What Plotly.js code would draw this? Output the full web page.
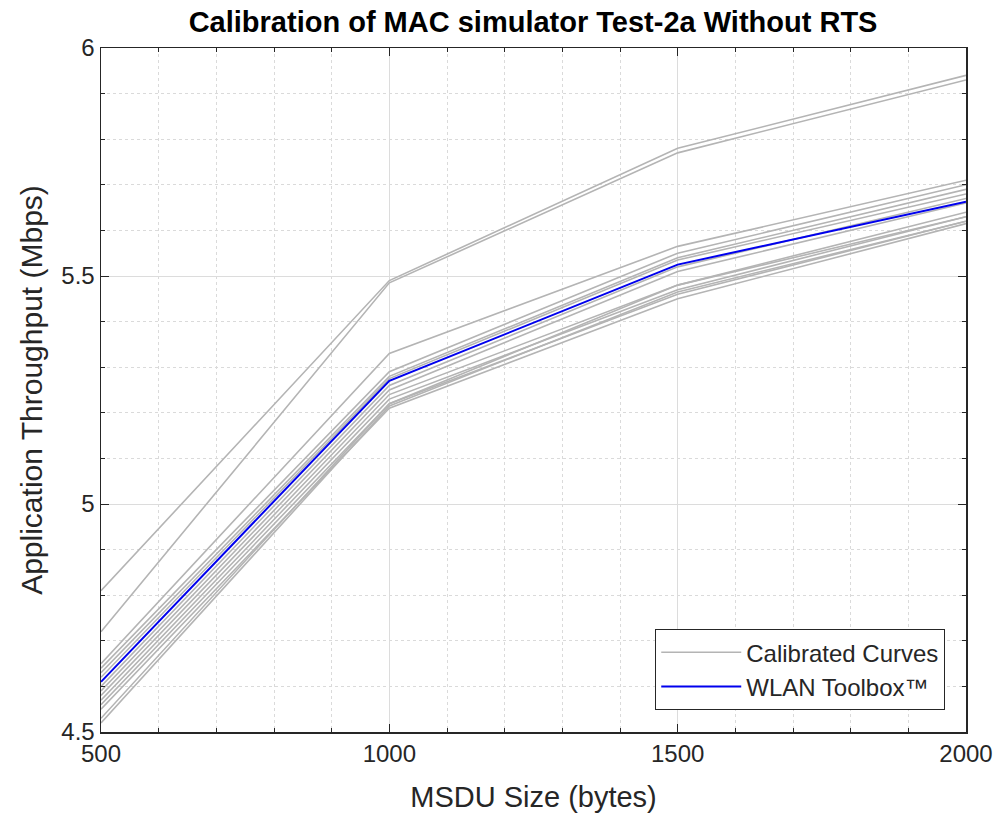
<!DOCTYPE html>
<html>
<head>
<meta charset="utf-8">
<script src="https://cdn.plot.ly/plotly-3.0.1.min.js"></script>
<style>html,body{margin:0;padding:0;background:#fff;}#chart{width:1002px;height:823px;}</style>
</head>
<body>
<div id="chart"></div>
<script>
// MSDU sizes (bytes)
const msduSize = [500, 1000, 1500, 2000];

// Calibrated curves (Mbps)
const calCurve01 = [4.81, 5.49, 5.78, 5.94];
const calCurve02 = [4.72, 5.485, 5.77, 5.93];
const calCurve03 = [4.65, 5.33, 5.565, 5.71];
const calCurve04 = [4.64, 5.29, 5.55, 5.70];
const calCurve05 = [4.63, 5.28, 5.54, 5.69];
const calCurve06 = [4.62, 5.275, 5.535, 5.68];
const calCurve07 = [4.60, 5.26, 5.52, 5.67];
const calCurve08 = [4.59, 5.25, 5.51, 5.66];
const calCurve09 = [4.58, 5.24, 5.48, 5.64];
const calCurve10 = [4.57, 5.23, 5.47, 5.63];
const calCurve11 = [4.56, 5.22, 5.46, 5.62];
const calCurve12 = [4.55, 5.21, 5.45, 5.615];
const calCurve13 = [4.53, 5.22, 5.48, 5.63];
const calCurve14 = [4.52, 5.215, 5.465, 5.62];
const calibratedCurves = [calCurve01, calCurve02, calCurve03, calCurve04, calCurve05, calCurve06, calCurve07,
  calCurve08, calCurve09, calCurve10, calCurve11, calCurve12, calCurve13, calCurve14];

// WLAN Toolbox reference (Mbps)
const wlanToolbox = [4.61, 5.27, 5.525, 5.663];

const xTickVals = [500, 1000, 1500, 2000];
const xTickText = ['500', '1000', '1500', '2000'];
const yTickVals = [4.5, 5, 5.5, 6];
const yTickText = ['4.5', '5', '5.5', '6'];

const FONT = 'Liberation Sans, Arial, sans-serif';
const TXT = '#262626';

const traces = calibratedCurves.map((c, i) => ({
  x: msduSize, y: c, type: 'scatter', mode: 'lines',
  line: {color: '#b4b4b4', width: 1.6},
  name: 'Calibrated Curves', legendgroup: 'cal', showlegend: i === 0,
  hoverinfo: 'x+y'
}));
traces.push({
  x: msduSize, y: wlanToolbox, type: 'scatter', mode: 'lines',
  line: {color: '#0000ee', width: 2},
  name: 'WLAN Toolbox™', legendgroup: 'wlan'
});

const layout = {
  width: 1002, height: 823,
  paper_bgcolor: '#ffffff', plot_bgcolor: '#ffffff',
  margin: {l: 101, r: 36, t: 48, b: 91},
  font: {family: FONT, color: TXT},
  showlegend: true,
  title: {text: '<b>Calibration of MAC simulator Test-2a Without RTS</b>', font: {family: FONT, size: 29, color: '#000'}, x: 0.532, xanchor: 'center', y: 0.973, yanchor: 'middle'},
  xaxis: {
    range: [500, 2000], tickmode: 'array', tickvals: xTickVals, ticktext: xTickText,
    ticks: 'inside', ticklen: 8, tickcolor: TXT, showline: true, linecolor: TXT, linewidth: 1.5, mirror: 'ticks',
    showgrid: true, gridcolor: '#dcdcdc', gridwidth: 1, zeroline: false,
    minor: {dtick: 100, showgrid: true, gridcolor: '#dadada', griddash: 'dot', ticks: 'inside', ticklen: 4, tickcolor: TXT},
    tickfont: {family: FONT, size: 24, color: TXT},
    title: {text: 'MSDU Size (bytes)', font: {family: FONT, size: 29, color: TXT}, standoff: 20}
  },
  yaxis: {
    range: [4.5, 6], tickmode: 'array', tickvals: yTickVals, ticktext: yTickText,
    ticks: 'inside', ticklen: 8, tickcolor: TXT, showline: true, linecolor: TXT, linewidth: 1.5, mirror: 'ticks',
    showgrid: true, gridcolor: '#dcdcdc', gridwidth: 1, zeroline: false,
    minor: {dtick: 0.1, showgrid: true, gridcolor: '#dadada', griddash: 'dot', ticks: 'inside', ticklen: 4, tickcolor: TXT},
    tickfont: {family: FONT, size: 24, color: TXT},
    title: {text: 'Application Throughput (Mbps)', font: {family: FONT, size: 30, color: TXT}, standoff: 10}
  },
  legend: {
    x: 0.976, xanchor: 'right', y: 0.032, yanchor: 'bottom',
    bgcolor: '#ffffff', bordercolor: TXT, borderwidth: 1,
    font: {family: FONT, size: 24, color: TXT}, itemwidth: 80, tracegroupgap: 0
  }
};

Plotly.newPlot('chart', traces, layout, {displayModeBar: false, staticPlot: true});
</script>
</body>
</html>
